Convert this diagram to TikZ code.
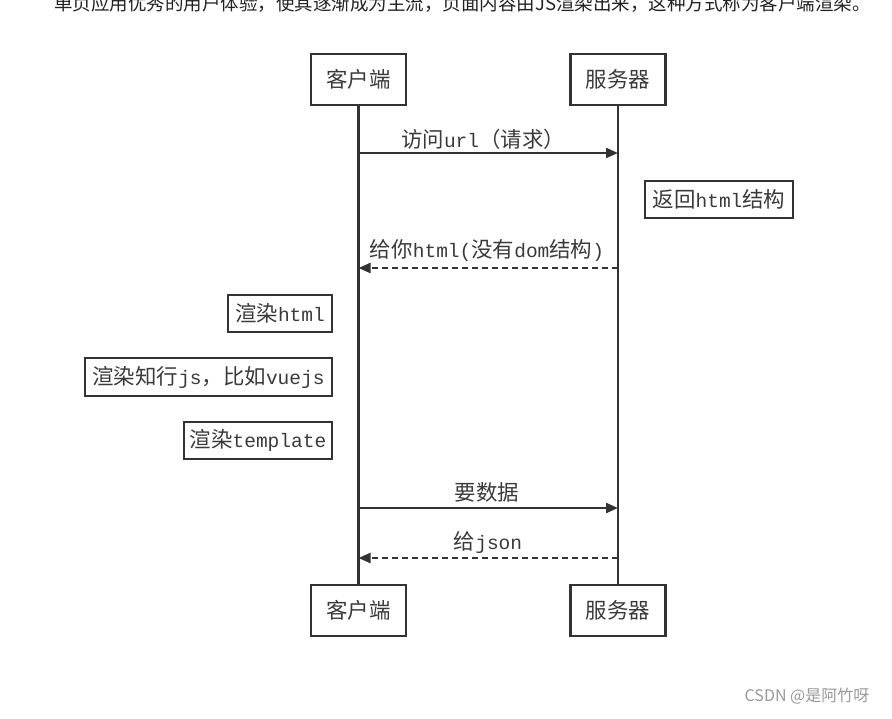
\documentclass[tikz,border=0pt]{standalone}
\usepackage{fontspec}
\setmainfont{Liberation Mono}
\newfontfamily\cjk{Noto Sans CJK SC}[Scale=1.1]
\newfontfamily\cjkplain{Noto Sans CJK SC}
\usetikzlibrary{arrows.meta}
\definecolor{linec}{HTML}{333333}
\definecolor{textc}{HTML}{3A3A3A}
\definecolor{topc}{HTML}{222222}
\definecolor{wmc}{HTML}{999999}
\tikzset{
  every node/.style={text=textc, font=\fontsize{19.5}{22}\selectfont},
  actor/.style={draw=linec, line width=2.6pt, fill=white, inner sep=0pt,
    minimum width=95pt, minimum height=51pt},
  notebox/.style={draw=linec, line width=2.8pt, fill=white, inner sep=0pt,
    minimum height=37pt},
  lifeline/.style={draw=linec, line width=2.2pt},
  msg/.style={draw=linec, line width=2.2pt, -{Triangle[length=12pt,width=10pt]}},
  reply/.style={msg, dash pattern=on 6pt off 4pt},
  lbl/.style={inner sep=0pt}
}
\begin{document}
\begin{tikzpicture}[x=1pt,y=-1pt]
\clip (0,0) rectangle (892,718);
\fill[white] (0,0) rectangle (892,718);
% cut-off sentence at the top
\node[anchor=base, text=topc, inner sep=0pt, font=\cjkplain\fontsize{18.5}{22}\selectfont] (top) at (462.5,10.5)
  {单页应用优秀的用户体验，使其逐渐成为主流，页面内容由JS渲染出来，这种方式称为客户端渲染。};
% actors
\node[actor] (c1) at (358.5,79.5) {\cjk 客户端};
\node[actor] (s1) at (618,79.5) {\cjk 服务器};
\node[actor] (c2) at (358.5,610.5) {\cjk 客户端};
\node[actor] (s2) at (618,610.5) {\cjk 服务器};
% lifelines
\draw[lifeline] (c1) -- (c2);
\draw[lifeline] (s1) -- (s2);
% message anchor points on lifelines
\coordinate (ca) at (c1.south |- 0,153);
\coordinate (sa) at (s1.south |- 0,153);
\coordinate (cb) at (c1.south |- 0,268);
\coordinate (sb) at (s1.south |- 0,268);
\coordinate (cc) at (c1.south |- 0,508);
\coordinate (sc) at (s1.south |- 0,508);
\coordinate (cd) at (c1.south |- 0,558);
\coordinate (sd) at (s1.south |- 0,558);
% messages
\draw[msg] (ca) -- (sa);
\node[lbl] (l1) at (483,139) {{\cjk 访问}url{\cjk （请求）}};
\draw[reply] (sb) -- (cb);
\node[lbl] (l2) at (487,250) {{\cjk 给你}html({\cjk 没有}dom{\cjk 结构})};
\draw[msg] (cc) -- (sc);
\node[lbl] (l3) at (487,492) {\cjk 要数据};
\draw[reply] (sd) -- (cd);
\node[lbl] (l4) at (488,543) {{\cjk 给}json};
% notes
\node[notebox, minimum width=148pt] (n1) at (719,199.5) {{\cjk 返回}html{\cjk 结构}};
\node[notebox, minimum width=104pt] (n2) at (280,313.5) {{\cjk 渲染}html};
\node[notebox, minimum width=247pt, minimum height=38pt] (n3) at (208.5,377) {{\cjk 渲染知行}js{\cjk ，比如}vuejs};
\node[notebox, minimum width=148pt] (n4) at (258,440.5) {{\cjk 渲染}template};
% watermark
\node[text=wmc, inner sep=0pt, font=\cjkplain\fontsize{16}{18}\selectfont] (wm) at (807,696) {CSDN @是阿竹呀};
\end{tikzpicture}
\end{document}
